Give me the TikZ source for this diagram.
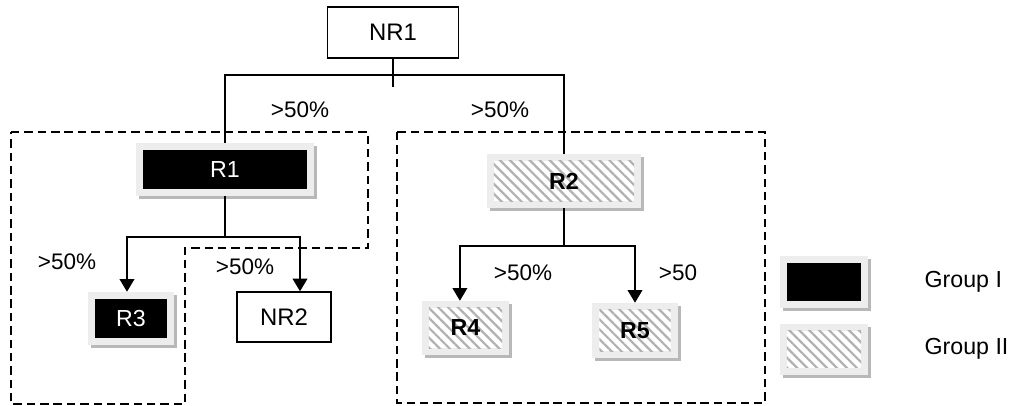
\documentclass[tikz,border=0pt]{standalone}
\usepackage{fontspec}
\setmainfont{Liberation Sans}
\usetikzlibrary{arrows.meta,shadows,patterns.meta,positioning}
\tikzset{>={Triangle[width=10.5pt,length=9pt]}, % filled arrow heads
link/.style={line width=1pt}, % lines between the boxes
grouparea/.style={line width=0.9pt, dash pattern=on 6pt off 3.5pt}, % dashed group areas
pct/.style={font=\fontsize{16}{19}\selectfont}, % share labels
nrbox/.style={draw, line width=1pt, inner sep=0pt, font=\fontsize{17}{20}\selectfont}, % plain boxes
framed/.style={fill=black!7, inner sep=0pt, drop shadow={shadow xshift=0.075cm, shadow yshift=-0.075cm, fill=black!28, opacity=1}},
groupone/.style={framed, text=white, font=\fontsize{16.5}{19}\selectfont,
  path picture={\fill[black] ([shift={(0.175cm,-0.175cm)}]path picture bounding box.north west)
    rectangle ([shift={(-0.175cm,0.175cm)}]path picture bounding box.south east);}},
grouptwo/.style={framed, font=\bfseries\fontsize{16.5}{19}\selectfont,
  path picture={\fill[white] ([shift={(0.175cm,-0.175cm)}]path picture bounding box.north west)
    rectangle ([shift={(-0.175cm,0.175cm)}]path picture bounding box.south east);
    \fill[pattern={Lines[angle=-45,distance=5pt,line width=1.6pt]}, pattern color=black!30]
    ([shift={(0.175cm,-0.175cm)}]path picture bounding box.north west)
    rectangle ([shift={(-0.175cm,0.175cm)}]path picture bounding box.south east);}},
keytext/.style={inner sep=0pt, font=\fontsize{16.5}{19}\selectfont},
}

\begin{document}
\begin{tikzpicture}[x=0.025cm, y=-0.025cm]
\useasboundingbox (0,0) rectangle (1015,406);
% group areas
\draw[grouparea] (11,132) -- (368,132) -- (368,248) -- (185,248) -- (185,404) -- (11,404) -- cycle;
\draw[grouparea] (397,132) rectangle (765,403);
% boxes
\node[nrbox, minimum width=3.275cm, minimum height=1.275cm] (nr1) at (393,32.5) {NR1};
\node[groupone, minimum width=4.425cm, minimum height=1.325cm] (r1) at (225,169.5) {R1};
\node[grouptwo, minimum width=3.85cm, minimum height=1.35cm] (r2) at (564,181) {R2};
\node[groupone, minimum width=2.15cm, minimum height=1.325cm] (r3) at (131,318.5) {R3};
\node[nrbox, minimum width=2.35cm, minimum height=1.25cm] (nr2) at (284,317) {NR2};
\node[grouptwo, minimum width=2.175cm, minimum height=1.35cm] (r4) at (465.5,328) {R4};
\node[grouptwo, minimum width=2.125cm, minimum height=1.375cm] (r5) at (635,330.5) {R5};
% legend
\node[groupone, minimum width=2.2cm, minimum height=1.3cm] (keyone) at (824,282) {};
\node[grouptwo, minimum width=2.2cm, minimum height=1.275cm, below=0.375cm of keyone] (keytwo) {};
\node[keytext, right=1.4cm of keyone] (groupI) {Group I};
\node[keytext, right=1.4cm of keytwo] (groupII) {Group II};
% connectors
\coordinate (fork0) at (393,75);
\coordinate (tick0) at (393,87);
\coordinate (fork1) at (225,237);
\coordinate (fork2) at (564,246);
\draw[link] (nr1) -- (tick0);
\draw[link] (r1.north) |- (fork0) -| (r2.north);
\draw[link] (r1) -- (fork1);
\draw[link, ->] (fork1) -| ([xshift=-0.1cm]r3.north);
\draw[link, ->] (fork1) -| ([xshift=0.4cm]nr2.north);
\draw[link] (r2) -- (fork2);
\draw[link, ->] (fork2) -| ([xshift=-0.14cm]r4.north);
\draw[link, ->] (fork2) -| (r5.north);
% share labels
\node[pct] (p1) at (300,110) {>50\%};
\node[pct] (p2) at (500,110) {>50\%};
\node[pct] (p3) at (67,262) {>50\%};
\node[pct] (p4) at (245,267) {>50\%};
\node[pct] (p5) at (523,273) {>50\%};
\node[pct] (p6) at (678,273) {>50};
\end{tikzpicture}
\end{document}
